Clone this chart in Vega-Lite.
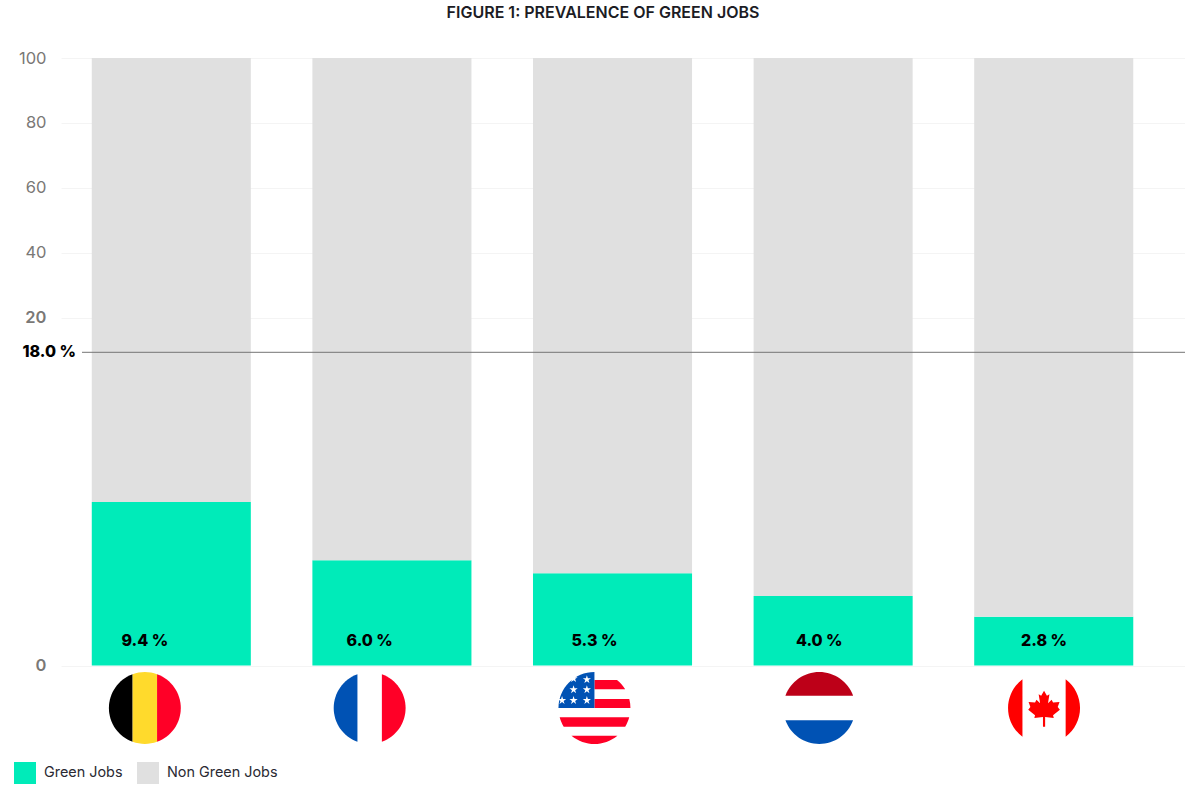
{
"$schema":"https://vega.github.io/schema/vega-lite/v6.json",
"autosize":{"type":"none"},
"padding":{"left":61,"top":58,"right":0,"bottom":127.5},
"width":1124,"height":607.5,
"background":"white",
"title":{"text":"FIGURE 1: PREVALENCE OF GREEN JOBS","font":"Inter","fontSize":16,"fontWeight":600,"color":"#1c1c24","anchor":"middle","dx":-20,"offset":29},
"config":{"view":{"stroke":null}},
"data":{"values":[
{"country":"Belgium","series":"Green Jobs","share":9.4,"label":"9.4 %"},
{"country":"Belgium","series":"Non Green Jobs","share":90.6},
{"country":"France","series":"Green Jobs","share":6.05,"label":"6.0 %"},
{"country":"France","series":"Non Green Jobs","share":93.95},
{"country":"United States","series":"Green Jobs","share":5.3,"label":"5.3 %"},
{"country":"United States","series":"Non Green Jobs","share":94.7},
{"country":"Netherlands","series":"Green Jobs","share":4.0,"label":"4.0 %"},
{"country":"Netherlands","series":"Non Green Jobs","share":96.0},
{"country":"Canada","series":"Green Jobs","share":2.8,"label":"2.8 %"},
{"country":"Canada","series":"Non Green Jobs","share":97.2}
]},
"resolve":{"scale":{"x":"independent"}},
"layer":[
{"mark":{"type":"bar"},
 "encoding":{
  "x":{"field":"country","type":"nominal","sort":null,"axis":null,"scale":{"domain":["Belgium","France","United States","Netherlands","Canada"],"range":[0,1124],"paddingInner":0.279,"paddingOuter":0.187,"align":0.373}},
  "y":{"field":"share","type":"quantitative","stack":"zero","scale":{"type":"linear","domain":[0,20,100],"range":[607.5,259.5,0]},
    "axis":{"title":null,"values":[0,20,40,60,80,100],"domain":false,"ticks":false,"labelPadding":15,"labelFont":"Inter","labelFontSize":16.5,"labelFontWeight":{"condition":{"test":"datum.value<=20","value":600},"value":400},"labelColor":"#7a7876","gridColor":"#f4f4f4","grid":true,"gridWidth":1}},
  "order":{"field":"series","sort":"ascending"},
  "color":{"field":"series","type":"nominal","scale":{"domain":["Green Jobs","Non Green Jobs"],"range":["#00ebb9","#e0e0e0"]},
    "legend":{"title":null,"orient":"none","legendX":-47,"legendY":704,"direction":"horizontal","columns":2,"symbolType":"square","symbolSize":484,"symbolStrokeWidth":0,"symbolOpacity":1,"labelOpacity":1,"labelFont":"Inter","labelFontSize":14.4,"labelColor":"#2a2a33","labelOffset":8,"columnPadding":14}}
 }},
{"transform":[{"filter":"datum.label"}],
 "mark":{"type":"text","font":"Inter","fontSize":16,"fontWeight":800,"color":"#000000","yOffset":-25},
 "encoding":{
  "x":{"field":"country","type":"nominal","sort":null,"axis":null,"scale":{"domain":["Belgium","France","United States","Netherlands","Canada"],"range":[0,1124],"paddingInner":0.279,"paddingOuter":0.187,"align":0.373}},
  "y":{"datum":0},
  "text":{"field":"label"}
 }},
{"data":{"values":[{"from":0,"to":100,"level":18,"text":"18.0 %"}]},
 "mark":{"type":"rule","color":"#757575","strokeWidth":1},
 "encoding":{
  "x":{"field":"from","type":"quantitative","axis":null,"scale":{"domain":[0,100],"range":[21,1124]}},
  "x2":{"field":"to"},
  "y":{"field":"level","type":"quantitative"}
 }},
{"data":{"values":[{"from":0,"to":100,"level":18,"text":"18.0 %"}]},
 "mark":{"type":"text","font":"Inter","fontSize":16,"fontWeight":800,"color":"#000000","align":"right","dx":-6},
 "encoding":{
  "x":{"field":"from","type":"quantitative","axis":null,"scale":{"domain":[0,100],"range":[21,1124]}},
  "y":{"field":"level","type":"quantitative"},
  "text":{"field":"text"}
 }},
{"data":{"values":[{"country":"Belgium"}]},"mark":{"type":"point","shape":"M-0.34,-0.94A1,1 0 0,0 -0.34,0.94Z","filled":true,"fill":"#000000","opacity":1,"size":5184,"yOffset":42.5},"encoding":{"x":{"field":"country","type":"nominal","sort":null,"axis":null,"scale":{"domain":["Belgium","France","United States","Netherlands","Canada"],"range":[0,1124],"paddingInner":0.279,"paddingOuter":0.187,"align":0.373}},"y":{"datum":0}}},
{"data":{"values":[{"country":"Belgium"}]},"mark":{"type":"point","shape":"M-0.34,-0.94A1,1 0 0,1 0.34,-0.94L0.34,0.94A1,1 0 0,1 -0.34,0.94Z","filled":true,"fill":"#ffda2c","opacity":1,"size":5184,"yOffset":42.5},"encoding":{"x":{"field":"country","type":"nominal","sort":null,"axis":null,"scale":{"domain":["Belgium","France","United States","Netherlands","Canada"],"range":[0,1124],"paddingInner":0.279,"paddingOuter":0.187,"align":0.373}},"y":{"datum":0}}},
{"data":{"values":[{"country":"Belgium"}]},"mark":{"type":"point","shape":"M0.34,-0.94A1,1 0 0,1 0.34,0.94Z","filled":true,"fill":"#ff0027","opacity":1,"size":5184,"yOffset":42.5},"encoding":{"x":{"field":"country","type":"nominal","sort":null,"axis":null,"scale":{"domain":["Belgium","France","United States","Netherlands","Canada"],"range":[0,1124],"paddingInner":0.279,"paddingOuter":0.187,"align":0.373}},"y":{"datum":0}}},
{"data":{"values":[{"country":"France"}]},"mark":{"type":"point","shape":"M-0.34,-0.94A1,1 0 0,0 -0.34,0.94Z","filled":true,"fill":"#0052b4","opacity":1,"size":5184,"yOffset":42.5},"encoding":{"x":{"field":"country","type":"nominal","sort":null,"axis":null,"scale":{"domain":["Belgium","France","United States","Netherlands","Canada"],"range":[0,1124],"paddingInner":0.279,"paddingOuter":0.187,"align":0.373}},"y":{"datum":0}}},
{"data":{"values":[{"country":"France"}]},"mark":{"type":"point","shape":"M0.34,-0.94A1,1 0 0,1 0.34,0.94Z","filled":true,"fill":"#ff0027","opacity":1,"size":5184,"yOffset":42.5},"encoding":{"x":{"field":"country","type":"nominal","sort":null,"axis":null,"scale":{"domain":["Belgium","France","United States","Netherlands","Canada"],"range":[0,1124],"paddingInner":0.279,"paddingOuter":0.187,"align":0.373}},"y":{"datum":0}}},
{"data":{"values":[{"country":"United States"}]},"mark":{"type":"point","shape":"M0,-0.78L0.626,-0.78A1,1 0 0,1 0.854,-0.52L0,-0.52ZM0,-0.25L0.968,-0.25A1,1 0 0,1 1,0L0,0ZM-0.966,0.26L0.966,0.26A1,1 0 0,1 0.854,0.52L-0.854,0.52A1,1 0 0,1 -0.966,0.26ZM-0.638,0.77L0.638,0.77A1,1 0 0,1 -0.638,0.77Z","filled":true,"fill":"#ff0027","opacity":1,"size":5184,"yOffset":42.5},"encoding":{"x":{"field":"country","type":"nominal","sort":null,"axis":null,"scale":{"domain":["Belgium","France","United States","Netherlands","Canada"],"range":[0,1124],"paddingInner":0.279,"paddingOuter":0.187,"align":0.373}},"y":{"datum":0}}},
{"data":{"values":[{"country":"United States"}]},"mark":{"type":"point","shape":"M0,0L-1,0A1,1 0 0,1 0,-1Z","filled":true,"fill":"#0052b4","opacity":1,"size":5184,"yOffset":42.5},"encoding":{"x":{"field":"country","type":"nominal","sort":null,"axis":null,"scale":{"domain":["Belgium","France","United States","Netherlands","Canada"],"range":[0,1124],"paddingInner":0.279,"paddingOuter":0.187,"align":0.373}},"y":{"datum":0}}},
{"data":{"values":[{"country":"United States"}]},"mark":{"type":"point","shape":"M-0.21,-0.91l0.027,0.083,0.087,0,-0.07,0.051,0.027,0.083,-0.071,-0.051,-0.071,0.051,0.027,-0.083,-0.07,-0.051,0.087,0zM-0.58,-0.63l0.027,0.083,0.087,0,-0.07,0.051,0.027,0.083,-0.071,-0.051,-0.071,0.051,0.027,-0.083,-0.07,-0.051,0.087,0zM-0.21,-0.63l0.027,0.083,0.087,0,-0.07,0.051,0.027,0.083,-0.071,-0.051,-0.071,0.051,0.027,-0.083,-0.07,-0.051,0.087,0zM-0.58,-0.33l0.027,0.083,0.087,0,-0.07,0.051,0.027,0.083,-0.071,-0.051,-0.071,0.051,0.027,-0.083,-0.07,-0.051,0.087,0zM-0.21,-0.33l0.027,0.083,0.087,0,-0.07,0.051,0.027,0.083,-0.071,-0.051,-0.071,0.051,0.027,-0.083,-0.07,-0.051,0.087,0zM-0.9,-0.33l0.027,0.083,0.087,0,-0.07,0.051,0.027,0.083,-0.071,-0.051,-0.071,0.051,0.027,-0.083,-0.07,-0.051,0.087,0zM-0.58,-0.94l0.027,0.083,0.087,0,-0.07,0.051,0.027,0.083,-0.071,-0.051,-0.071,0.051,0.027,-0.083,-0.07,-0.051,0.087,0z","filled":true,"fill":"#ffffff","opacity":1,"size":5184,"yOffset":42.5},"encoding":{"x":{"field":"country","type":"nominal","sort":null,"axis":null,"scale":{"domain":["Belgium","France","United States","Netherlands","Canada"],"range":[0,1124],"paddingInner":0.279,"paddingOuter":0.187,"align":0.373}},"y":{"datum":0}}},
{"data":{"values":[{"country":"Netherlands"}]},"mark":{"type":"point","shape":"M-0.94,-0.34A1,1 0 0,1 0.94,-0.34Z","filled":true,"fill":"#bd0018","opacity":1,"size":5184,"yOffset":42.5},"encoding":{"x":{"field":"country","type":"nominal","sort":null,"axis":null,"scale":{"domain":["Belgium","France","United States","Netherlands","Canada"],"range":[0,1124],"paddingInner":0.279,"paddingOuter":0.187,"align":0.373}},"y":{"datum":0}}},
{"data":{"values":[{"country":"Netherlands"}]},"mark":{"type":"point","shape":"M-0.94,0.34A1,1 0 0,0 0.94,0.34Z","filled":true,"fill":"#0052b4","opacity":1,"size":5184,"yOffset":42.5},"encoding":{"x":{"field":"country","type":"nominal","sort":null,"axis":null,"scale":{"domain":["Belgium","France","United States","Netherlands","Canada"],"range":[0,1124],"paddingInner":0.279,"paddingOuter":0.187,"align":0.373}},"y":{"datum":0}}},
{"data":{"values":[{"country":"Canada"}]},"mark":{"type":"point","shape":"M-0.6,-0.8A1,1 0 0,0 -0.6,0.8ZM0.6,-0.8A1,1 0 0,1 0.6,0.8ZM0,-0.48L0.08,-0.34L0.15,-0.38L0.11,-0.13L0.21,-0.23L0.25,-0.15L0.43,-0.17L0.38,-0.03L0.44,0.05L0.25,0.2L0.27,0.28L0.03,0.25L0.03,0.52L-0.03,0.52L-0.03,0.25L-0.27,0.28L-0.25,0.2L-0.44,0.05L-0.38,-0.03L-0.43,-0.17L-0.25,-0.15L-0.21,-0.23L-0.11,-0.13L-0.15,-0.38L-0.08,-0.34Z","filled":true,"fill":"#ff0000","opacity":1,"size":5184,"yOffset":42.5},"encoding":{"x":{"field":"country","type":"nominal","sort":null,"axis":null,"scale":{"domain":["Belgium","France","United States","Netherlands","Canada"],"range":[0,1124],"paddingInner":0.279,"paddingOuter":0.187,"align":0.373}},"y":{"datum":0}}}
]
}
